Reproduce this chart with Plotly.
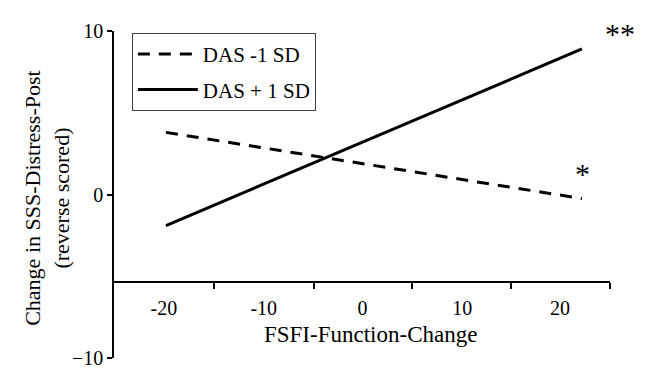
import plotly.graph_objects as go

# Data
fsfi_x = [-20, 20]
das_minus = [3.8, -0.25]
das_plus = [-1.9, 8.9]
series_names = ["DAS -1 SD", "DAS + 1 SD"]

x_tick_labels = ["-20", "-10", "0", "10", "20"]
x_label_pos = [-20.2, -10.6, -1.1, 8.5, 17.9]
x_tick_marks = [-15.4, -5.8, 3.7, 13.2, 22.7]
y_ticks = [-10, 0, 10]

FONT = "'Liberation Serif', Tinos, 'Times New Roman', serif"

fig = go.Figure()
fig.add_trace(go.Scatter(x=fsfi_x, y=das_minus, mode="lines", name=series_names[0],
                         legendgroup="a",
                         line=dict(color="black", width=3, dash="12px,9px")))
fig.add_trace(go.Scatter(x=fsfi_x, y=das_plus, mode="lines", name=series_names[1],
                         legendgroup="b",
                         line=dict(color="black", width=3)))

# page body has an 8px margin, so the figure is offset by 8px
fig.update_layout(
    width=638, height=373,
    margin=dict(l=106, r=36, t=13, b=19),
    paper_bgcolor="white", plot_bgcolor="white",
    font=dict(family=FONT, color="black", size=20),
    showlegend=True,
    legend=dict(x=0.036, y=0.994, xanchor="left", yanchor="top",
                bordercolor="#444", borderwidth=1, bgcolor="white",
                font=dict(size=21, family=FONT), traceorder="grouped",
                tracegroupgap=5, itemwidth=60),
    xaxis=dict(range=[-25, 22.7], showgrid=False, zeroline=False,
               showline=True, linecolor="black", linewidth=1.5,
               anchor="free", position=0.2317,
               tickmode="array", tickvals=x_label_pos, ticktext=x_tick_labels,
               ticks="", ticklabelstandoff=8,
               tickfont=dict(size=20, family=FONT),
               minor=dict(tickmode="array", tickvals=x_tick_marks, ticks="outside",
                          ticklen=6, tickwidth=1.5, tickcolor="black", showgrid=False)),
    yaxis=dict(range=[-10, 10], showgrid=False, zeroline=False,
               showline=True, linecolor="black", linewidth=1.5,
               tickmode="array", tickvals=y_ticks,
               ticks="outside", ticklen=5, tickwidth=1.5, tickcolor="black",
               tickfont=dict(size=20, family=FONT)),
    annotations=[
        dict(text="FSFI-Function-Change", xref="paper", yref="paper",
             x=(370 - 114) / 496, y=(362 - 338) / 341, xanchor="center", yanchor="middle",
             showarrow=False, font=dict(size=23, family=FONT)),
        dict(text="Change in SSS-Distress-Post<br>(reverse scored)", xref="paper", yref="paper",
             x=(47 - 114) / 496, y=(362 - 196) / 341, xanchor="center", yanchor="middle",
             textangle=-90, showarrow=False, font=dict(size=22, family=FONT)),
        dict(text="**", xref="paper", yref="paper", x=(620 - 114) / 496, y=(362 - 24) / 341,
             xanchor="center", yanchor="middle",
             showarrow=False, font=dict(size=30, family=FONT)),
        dict(text="*", xref="x", yref="y", x=20.1, y=1.3, xanchor="center", yanchor="middle",
             showarrow=False, font=dict(size=30, family=FONT)),
    ],
)

fig.write_html("out.html")
